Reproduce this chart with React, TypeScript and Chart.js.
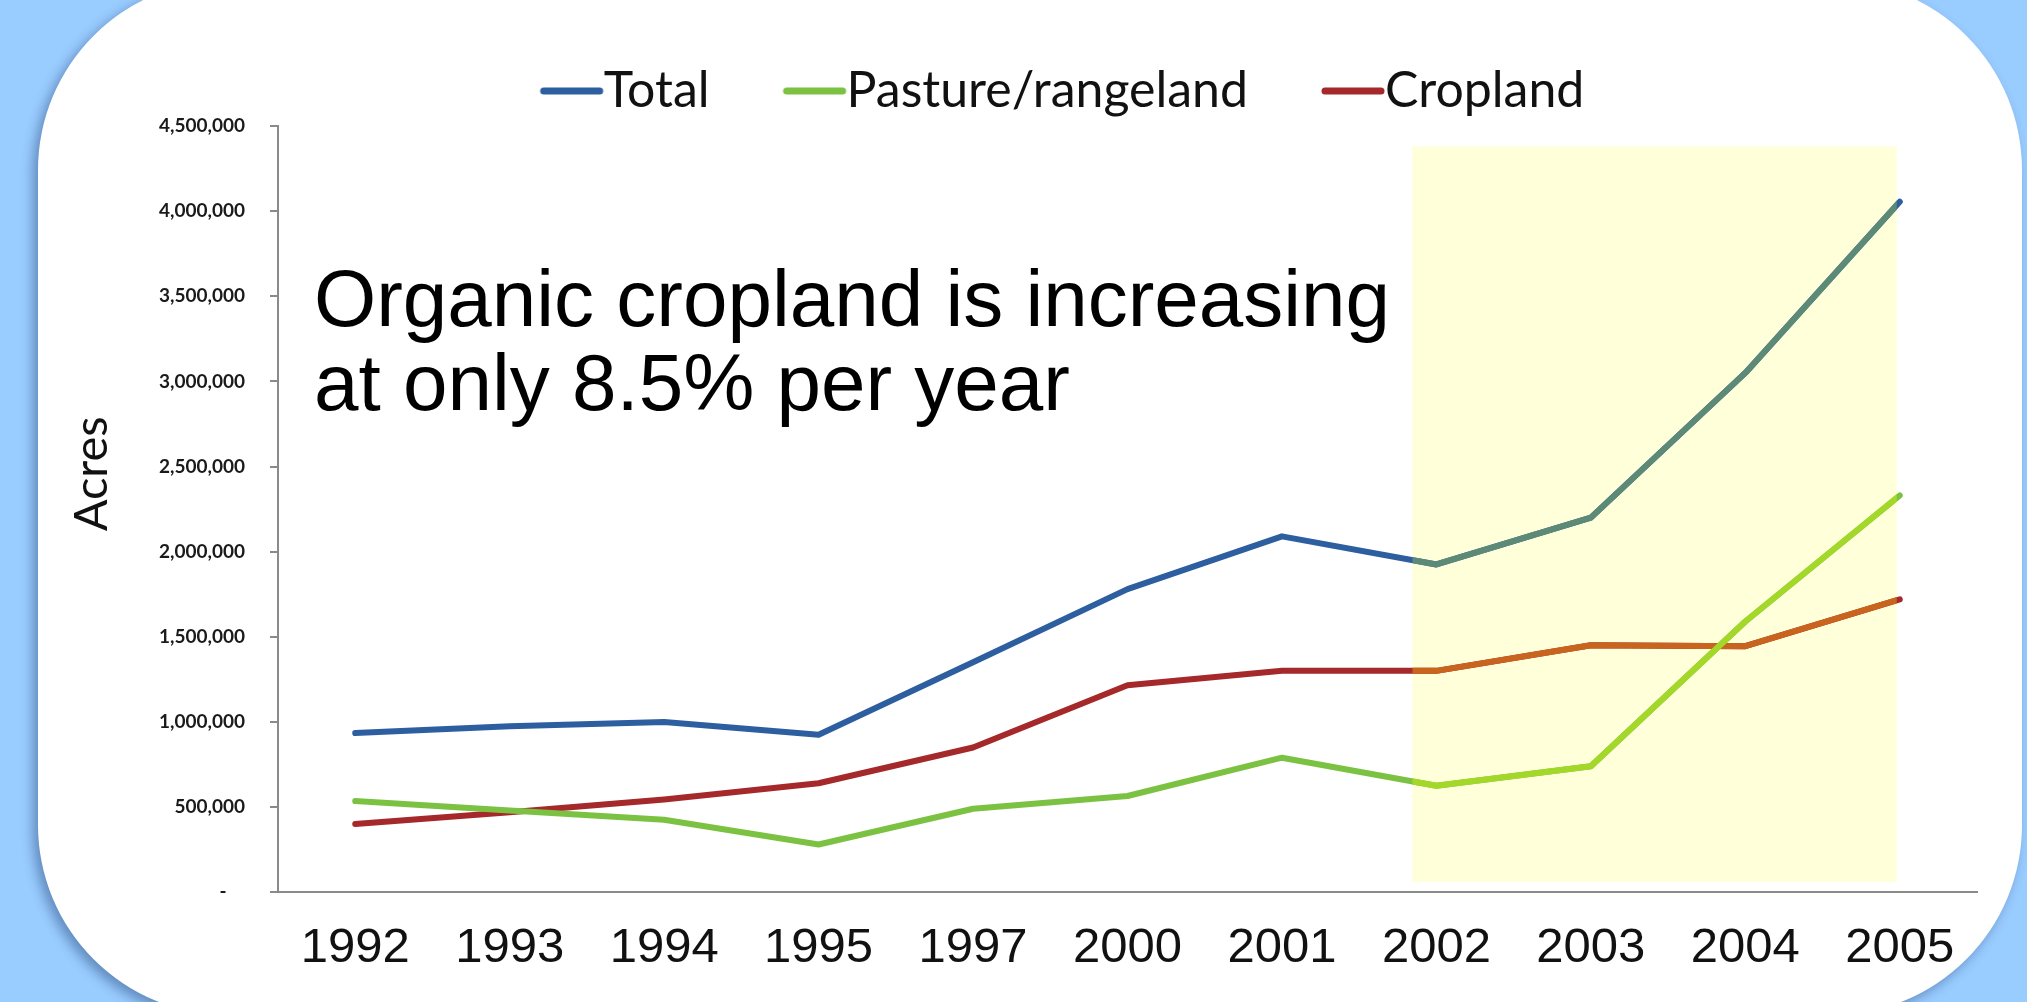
import React, { useEffect, useRef } from "react";
import { Chart, registerables } from "chart.js";

Chart.register(...registerables);

// ---- data ----
const years = ["1992", "1993", "1994", "1995", "1997", "2000", "2001", "2002", "2003", "2004", "2005"];
const totalAcres = [935000, 975000, 1000000, 925000, 1350000, 1780000, 2090000, 1925000, 2200000, 3050000, 4055000];
const pastureAcres = [535000, 480000, 425000, 280000, 490000, 565000, 790000, 625000, 740000, 1590000, 2330000];
const croplandAcres = [400000, 470000, 545000, 640000, 850000, 1215000, 1300000, 1300000, 1450000, 1445000, 1720000];
const seriesNames = ["Total", "Pasture/rangeland", "Cropland"];
const yMax = 4500000;
const yStep = 500000;
const yTitle = "Acres";
const noteLines = ["Organic cropland is increasing", "at only 8.5% per year"];
const highlightStartIndex = 7; // 2002
const highlightEndIndex = 10; // 2005
const highlightTop = 4380000;
const highlightBottom = 60000;

// ---- styles ----
const lineColors = ["#2D5FA0", "#7CC242", "#A5282B"];
const highlightLineColors = ["#5C8A77", "#A3D82B", "#C8641E"];
const highlightFill = "#FFFFD9";
const axisColor = "#8a8a8a";
const lineWidth = 6;

const highlightPlugin = {
  id: "highlightBand",
  _rect(chart: any) {
    const xs = chart.scales.x;
    const ys = chart.scales.y;
    const x6 = xs.getPixelForValue(highlightStartIndex - 1);
    const x7 = xs.getPixelForValue(highlightStartIndex);
    const left = x7 - 0.155 * (x7 - x6);
    const right = xs.getPixelForValue(highlightEndIndex) - 3;
    const top = ys.getPixelForValue(highlightTop);
    const bottom = ys.getPixelForValue(highlightBottom);
    return { left, right, top, bottom };
  },
  beforeDatasetsDraw(chart: any) {
    const r = (highlightPlugin as any)._rect(chart);
    const ctx = chart.ctx;
    ctx.save();
    ctx.fillStyle = highlightFill;
    ctx.fillRect(r.left, r.top, r.right - r.left, r.bottom - r.top);
    ctx.restore();
  },
  afterDatasetsDraw(chart: any) {
    const r = (highlightPlugin as any)._rect(chart);
    const ctx = chart.ctx;
    ctx.save();
    ctx.beginPath();
    ctx.rect(r.left, r.top, r.right - r.left, r.bottom - r.top);
    ctx.clip();
    for (let i = chart.data.datasets.length - 1; i >= 0; i--) {
      const meta = chart.getDatasetMeta(i);
      ctx.beginPath();
      meta.data.forEach((pt: any, j: number) => {
        if (j === 0) ctx.moveTo(pt.x, pt.y);
        else ctx.lineTo(pt.x, pt.y);
      });
      ctx.strokeStyle = highlightLineColors[i];
      ctx.lineWidth = lineWidth;
      ctx.lineJoin = "round";
      ctx.lineCap = "round";
      ctx.stroke();
    }
    ctx.restore();
  },
};

const notePlugin = {
  id: "noteText",
  afterDraw(chart: any) {
    const ctx = chart.ctx;
    const a = chart.chartArea;
    ctx.save();
    ctx.font = '80px "Liberation Sans", Arial, sans-serif';
    ctx.fillStyle = "#000";
    ctx.textBaseline = "alphabetic";
    ctx.textAlign = "left";
    ctx.fillText(noteLines[0], a.left + 36, a.top + 200);
    ctx.fillText(noteLines[1], a.left + 36, a.top + 284);
    ctx.restore();
  },
};

const legendShiftPlugin = {
  id: "legendShift",
  afterLayout(chart: any) {
    const lg = chart.legend;
    if (lg) {
      lg.left += 50;
      lg.right += 50;
    }
  },
};

export default function App() {
  const ref = useRef<HTMLCanvasElement>(null);

  useEffect(() => {
    const canvas = ref.current;
    if (!canvas) return;

    const makeMarker = (color: string) => {
      const c = document.createElement("canvas");
      c.width = 120;
      c.height = 12;
      const g = c.getContext("2d")!;
      g.strokeStyle = color;
      g.lineWidth = 7;
      g.lineCap = "round";
      g.beginPath();
      g.moveTo(43, 6);
      g.lineTo(99, 6);
      g.stroke();
      return c;
    };
    const markers = lineColors.map(makeMarker);

    const seriesValues = [totalAcres, pastureAcres, croplandAcres];

    const chart = new Chart(canvas, {
      type: "line",
      data: {
        labels: years,
        datasets: seriesValues.map((vals, i) => ({
          label: seriesNames[i],
          data: vals,
          borderColor: lineColors[i],
          backgroundColor: lineColors[i],
          borderWidth: lineWidth,
          pointRadius: 0,
          pointHoverRadius: 0,
          tension: 0,
          borderJoinStyle: "round" as const,
          borderCapStyle: "round" as const,
        })),
      },
      options: {
        animation: false,
        responsive: false,
        devicePixelRatio: 1,
        layout: { padding: { left: 50, right: 50, top: -10, bottom: -3 } },
        plugins: {
          tooltip: { enabled: false },
          legend: {
            position: "top",
            labels: {
              usePointStyle: true,
              pointStyleWidth: 36,
              padding: 76,
              color: "#111",
              font: { family: "Lato, 'Open Sans', sans-serif", size: 50 },
              generateLabels: (ch: any) =>
                (Chart.defaults.plugins.legend.labels as any)
                  .generateLabels(ch)
                  .map((item: any, i: number) => ({ ...item, pointStyle: markers[i] })),
            },
          },
        },
        scales: {
          x: {
            offset: true,
            grid: { display: false, drawTicks: false, tickLength: 0 },
            border: { display: true, color: axisColor, width: 2 },
            ticks: {
              autoSkip: false,
              maxRotation: 0,
              padding: 27,
              color: "#111",
              font: { family: "'Liberation Sans', Arial, sans-serif", size: 49 },
            },
          },
          y: {
            min: 0,
            max: yMax,
            afterFit: (s: any) => {
              s.width = 228;
            },
            ticks: {
              stepSize: yStep,
              padding: 25,
              color: "#1a1a1a",
              font: { family: "Lato, sans-serif", size: 19, weight: "bold" },
              callback: (v: any) => (Number(v) === 0 ? "-    " : Number(v).toLocaleString("en-US")),
            },
            grid: {
              drawOnChartArea: false,
              drawTicks: true,
              tickLength: 8,
              color: axisColor,
              lineWidth: 2,
            },
            border: { display: true, color: axisColor, width: 2 },
            title: {
              display: true,
              text: "\u00a0\u00a0\u00a0\u00a0\u00a0\u00a0" + yTitle,
              color: "#111",
              font: { family: "Lato, sans-serif", size: 47 },
              padding: { top: 14, bottom: 0 },
            },
          },
        },
      },
      plugins: [highlightPlugin, notePlugin, legendShiftPlugin],
    } as any);

    return () => chart.destroy();
  }, []);

  return (
    <div
      style={{
        position: "fixed",
        left: 0,
        top: 0,
        width: 2027,
        height: 1002,
        background: "#99CCFF",
        overflow: "hidden",
      }}
    >
      <div
        style={{
          position: "absolute",
          left: 38,
          top: -20,
          width: 1984,
          height: 1035,
          borderRadius: 190,
          background: "#ffffff",
          boxShadow: "-5px 5px 12px rgba(30,60,110,0.45)",
        }}
      />
      <canvas
        ref={ref}
        width={2027}
        height={1002}
        style={{ position: "absolute", left: 0, top: 0 }}
      />
    </div>
  );
}
